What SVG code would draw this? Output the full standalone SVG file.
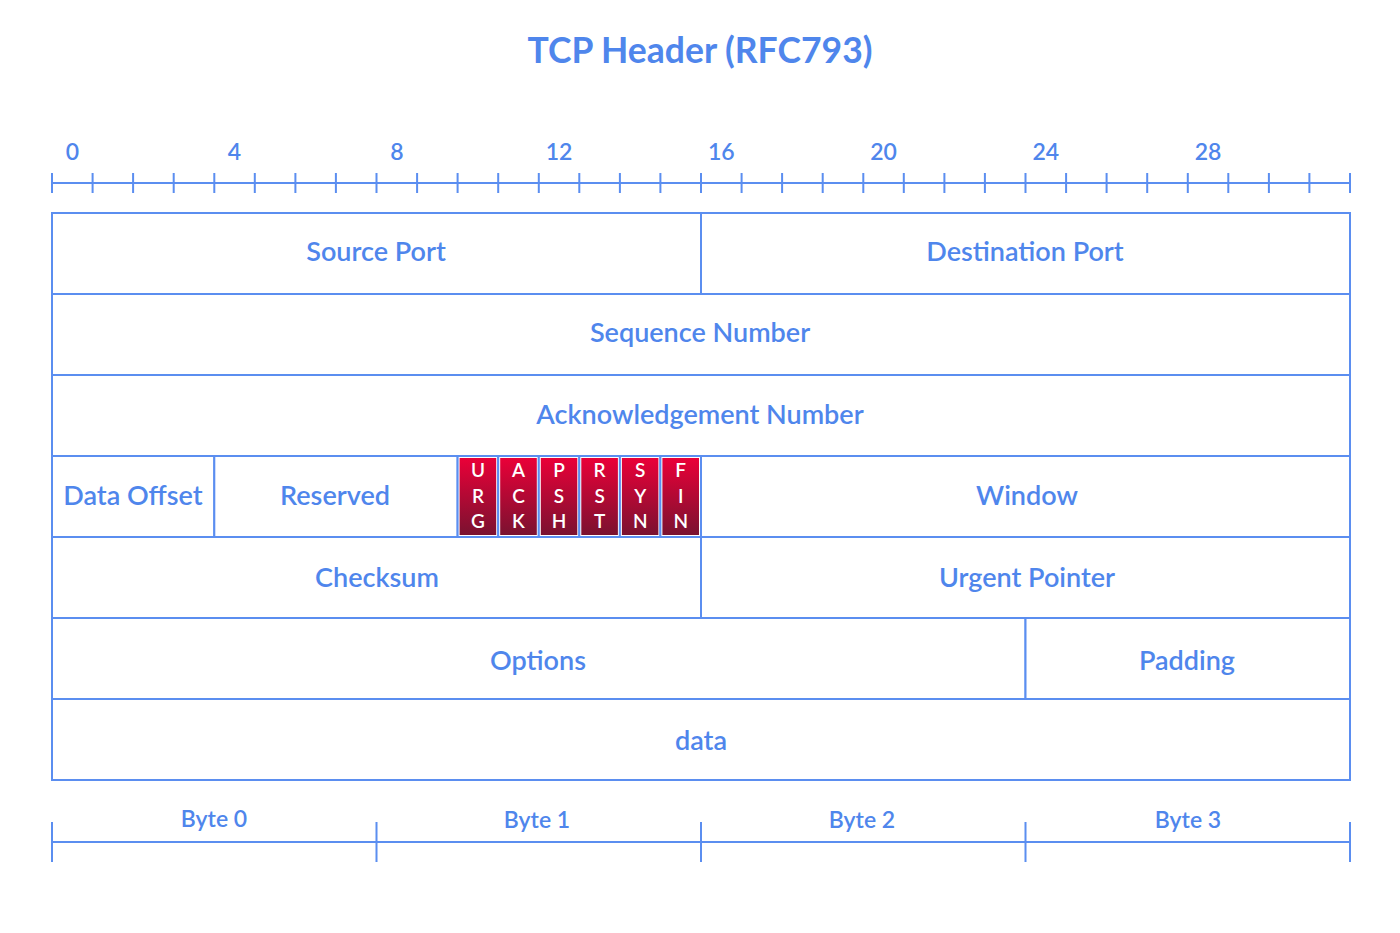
<svg xmlns="http://www.w3.org/2000/svg" width="1400" height="933" viewBox="0 0 1400 933">
<defs>
<linearGradient id="flag" x1="0" y1="0" x2="0" y2="1">
<stop offset="0" stop-color="#ea0038"/>
<stop offset="1" stop-color="#7a1230"/>
</linearGradient>
<style>
.ln{stroke:#5b8ef0;stroke-width:2;fill:none}
.cell{fill:#fff;stroke:#5b8ef0;stroke-width:2}
.t{font-family:Lato,"Open Sans","Noto Sans",sans-serif;font-size:27px;fill:#4f86ec;text-anchor:middle;dominant-baseline:central;font-weight:600}
.num{font-family:Lato,"Open Sans","Noto Sans",sans-serif;font-size:23px;fill:#4f86ec;text-anchor:middle;font-weight:600}
.title{font-family:Lato,"Open Sans","Noto Sans",sans-serif;font-size:35.5px;font-weight:bold;fill:#4f86ec;text-anchor:middle}
.fl{fill:url(#flag);stroke:none}
.ft{font-family:Lato,"Open Sans","Noto Sans",sans-serif;font-size:19px;fill:#fff;text-anchor:middle;font-weight:600}
</style>
</defs>
<rect width="1400" height="933" fill="#fff"/>
<text class="title" x="700" y="63">TCP Header (RFC793)</text>
<g id="ruler">
<line class="ln" x1="52" y1="183" x2="1350" y2="183"/>
<path class="ln" d="M52 173V193M92.6 173V193M133.1 173V193M173.7 173V193M214.3 173V193M254.8 173V193M295.4 173V193M335.9 173V193M376.5 173V193M417.1 173V193M457.6 173V193M498.2 173V193M538.8 173V193M579.3 173V193M619.9 173V193M660.4 173V193M701 173V193M741.6 173V193M782.1 173V193M822.7 173V193M863.3 173V193M903.8 173V193M944.4 173V193M984.9 173V193M1025.5 173V193M1066.1 173V193M1106.6 173V193M1147.2 173V193M1187.8 173V193M1228.3 173V193M1268.9 173V193M1309.4 173V193M1350 173V193"/>
<text class="num" x="72.3" y="160">0</text>
<text class="num" x="234.5" y="160">4</text>
<text class="num" x="396.8" y="160">8</text>
<text class="num" x="559" y="160">12</text>
<text class="num" x="721.3" y="160">16</text>
<text class="num" x="883.5" y="160">20</text>
<text class="num" x="1045.8" y="160">24</text>
<text class="num" x="1208" y="160">28</text>
</g>
<g id="source-port"><rect class="cell" x="52" y="213" width="649" height="81"/><text class="t" x="376" y="250">Source Port</text></g>
<g id="destination-port"><rect class="cell" x="701" y="213" width="649" height="81"/><text class="t" x="1025" y="250">Destination Port</text></g>
<g id="sequence-number"><rect class="cell" x="52" y="294" width="1298" height="81"/><text class="t" x="700" y="331">Sequence Number</text></g>
<g id="ack-number"><rect class="cell" x="52" y="375" width="1298" height="81"/><text class="t" x="700" y="413">Acknowledgement Number</text></g>
<g id="data-offset"><rect class="cell" x="52" y="456" width="162.3" height="81"/><text class="t" x="133" y="494">Data Offset</text></g>
<g id="reserved"><rect class="cell" x="214.3" y="456" width="243.3" height="81"/><text class="t" x="335" y="494">Reserved</text></g>
<g id="flag-urg"><rect class="cell" x="457.6" y="456" width="40.6" height="81"/><rect class="fl" x="459.6" y="458" width="36.6" height="77"/><text class="ft" x="478" y="477">U</text><text class="ft" x="478" y="503">R</text><text class="ft" x="478" y="528">G</text></g>
<g id="flag-ack"><rect class="cell" x="498.2" y="456" width="40.6" height="81"/><rect class="fl" x="500.2" y="458" width="36.6" height="77"/><text class="ft" x="518.5" y="477">A</text><text class="ft" x="518.5" y="503">C</text><text class="ft" x="518.5" y="528">K</text></g>
<g id="flag-psh"><rect class="cell" x="538.8" y="456" width="40.5" height="81"/><rect class="fl" x="540.8" y="458" width="36.5" height="77"/><text class="ft" x="559" y="477">P</text><text class="ft" x="559" y="503">S</text><text class="ft" x="559" y="528">H</text></g>
<g id="flag-rst"><rect class="cell" x="579.3" y="456" width="40.6" height="81"/><rect class="fl" x="581.3" y="458" width="36.6" height="77"/><text class="ft" x="599.6" y="477">R</text><text class="ft" x="599.6" y="503">S</text><text class="ft" x="599.6" y="528">T</text></g>
<g id="flag-syn"><rect class="cell" x="619.9" y="456" width="40.5" height="81"/><rect class="fl" x="621.9" y="458" width="36.5" height="77"/><text class="ft" x="640.2" y="477">S</text><text class="ft" x="640.2" y="503">Y</text><text class="ft" x="640.2" y="528">N</text></g>
<g id="flag-fin"><rect class="cell" x="660.4" y="456" width="40.6" height="81"/><rect class="fl" x="662.4" y="458" width="36.6" height="77"/><text class="ft" x="680.7" y="477">F</text><text class="ft" x="680.7" y="503">I</text><text class="ft" x="680.7" y="528">N</text></g>
<g id="window"><rect class="cell" x="701" y="456" width="649" height="81"/><text class="t" x="1027" y="494">Window</text></g>
<g id="checksum"><rect class="cell" x="52" y="537" width="649" height="81"/><text class="t" x="377" y="576">Checksum</text></g>
<g id="urgent-pointer"><rect class="cell" x="701" y="537" width="649" height="81"/><text class="t" x="1027" y="576">Urgent Pointer</text></g>
<g id="options"><rect class="cell" x="52" y="618" width="973.5" height="81"/><text class="t" x="538" y="659">Options</text></g>
<g id="padding"><rect class="cell" x="1025.5" y="618" width="324.5" height="81"/><text class="t" x="1187" y="659">Padding</text></g>
<g id="data"><rect class="cell" x="52" y="699" width="1298" height="81"/><text class="t" x="701" y="739">data</text></g>
<g id="byte-ruler">
<line class="ln" x1="52" y1="842" x2="1350" y2="842"/>
<path class="ln" d="M52 822V862M376.5 822V862M701 822V862M1025.5 822V862M1350 822V862"/>
<text class="num" x="214" y="827">Byte 0</text>
<text class="num" x="537" y="828">Byte 1</text>
<text class="num" x="862" y="828">Byte 2</text>
<text class="num" x="1188" y="828">Byte 3</text>
</g>
</svg>
